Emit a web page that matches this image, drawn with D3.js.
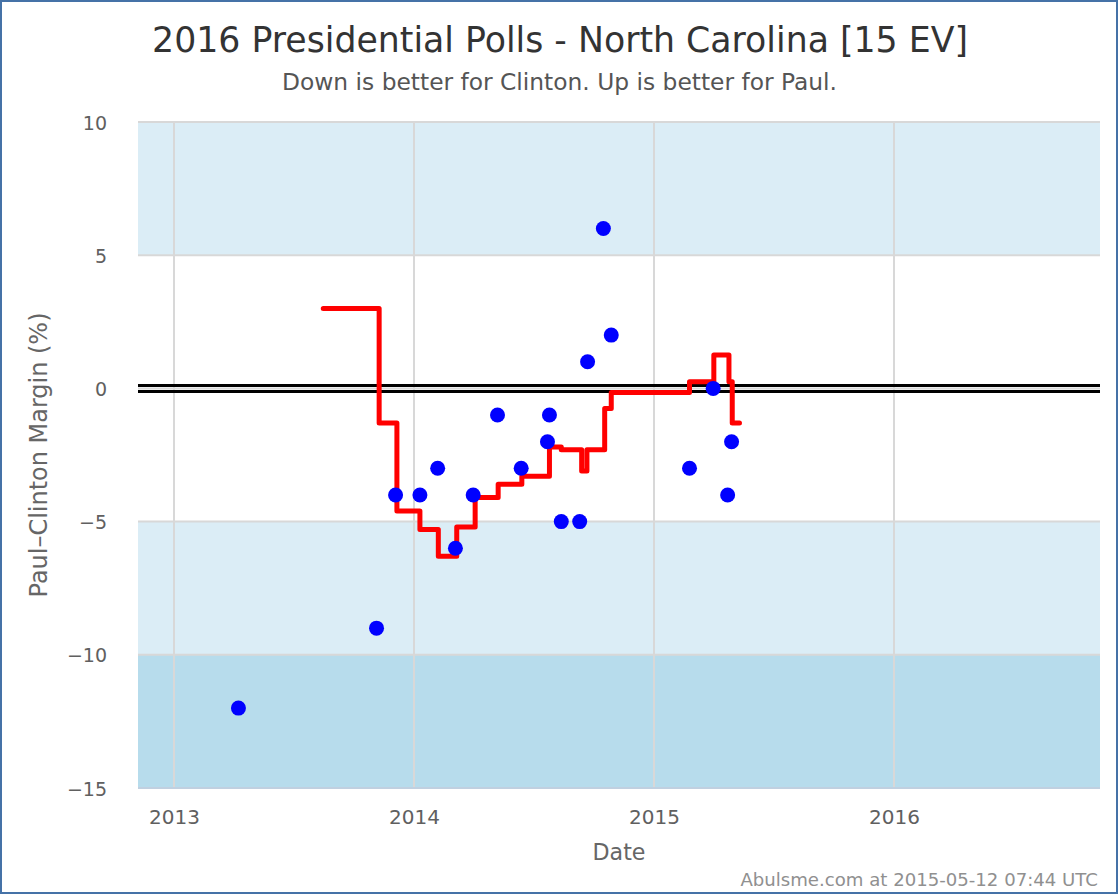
<!DOCTYPE html>
<html>
<head>
<meta charset="utf-8">
<script src="https://cdn.jsdelivr.net/npm/d3@7"></script>
<style>
  html, body { margin: 0; padding: 0; background: #ffffff; }
  svg { display: block; }
  text { font-family: "DejaVu Sans", Verdana, sans-serif; }
</style>
</head>
<body>
<svg id="chart" width="1120" height="896"></svg>
<script>
// ---------------- data ----------------
const titleText = "2016 Presidential Polls - North Carolina [15 EV]";
const subtitleText = "Down is better for Clinton. Up is better for Paul.";
const xAxisTitle = "Date";
const yAxisTitle = "Paul\u2013Clinton Margin (%)";
const footerText = "Abulsme.com at 2015-05-12 07:44 UTC";

const yTicks = [10, 5, 0, -5, -10, -15];
const xTickYears = [2013, 2014, 2015, 2016];

// shaded bands [from, to, kind]
const bandFrom = [5, -10, -15];
const bandTo   = [10, -5, -10];
const bandKind = ["light", "light", "dark"];

// individual polls
const pollDates = ["2013-04-09","2013-11-05","2013-12-04","2014-01-10","2014-02-06","2014-03-05",
  "2014-04-01","2014-05-08","2014-06-13","2014-07-23","2014-07-26","2014-08-13","2014-09-10",
  "2014-09-22","2014-10-16","2014-10-28","2015-02-24","2015-04-01","2015-04-23","2015-04-29"];
const pollValues = [-12, -9, -4, -4, -3, -6, -4, -1, -3, -2, -1, -5, -5, 1, 6, 2, -3, 0, -4, -2];

// running average (step line)
const avgDates = ["2013-08-16","2013-11-09","2013-12-06","2014-01-10","2014-02-07","2014-03-07",
  "2014-04-04","2014-05-09","2014-06-14","2014-07-26","2014-08-13","2014-09-13","2014-09-21",
  "2014-10-18","2014-10-28","2015-02-24","2015-04-02","2015-04-25","2015-04-30","2015-05-11"];
const avgValues = [3.0, -1.3, -4.6, -5.3, -6.3, -5.2, -4.1, -3.6, -3.3, -2.2, -2.3, -3.1, -2.3,
  -0.75, -0.15, 0.25, 1.25, 0.25, -1.3, -1.3];

// ---------------- layout ----------------
const W = 1120, H = 896;
const plot = { left: 138, right: 1100, top: 122, bottom: 788 };
const svg = d3.select("#chart");
const parse = d3.utcParse("%Y-%m-%d");

const x = d3.scaleUtc()
  .domain([Date.UTC(2012, 10, 7, 6), Date.UTC(2016, 10, 9, 7, 12)])
  .range([plot.left, plot.right]);
const y = d3.scaleLinear().domain([-15, 10]).range([plot.bottom, plot.top]);

function fit(sel, target) {
  const fs = parseFloat(sel.attr("font-size"));
  const w = sel.node().getComputedTextLength();
  sel.attr("font-size", (fs * target / w).toFixed(2));
  return sel;
}

// background & border
svg.append("rect").attr("x", 1).attr("y", 1).attr("width", 1116).attr("height", 892)
  .attr("fill", "#ffffff").attr("stroke", "#4572a7").attr("stroke-width", 2);

// bands
const bandColor = { light: "#dbedf6", dark: "#b7dcec" };
svg.append("g").selectAll("rect").data(bandFrom).join("rect")
  .attr("x", plot.left).attr("width", plot.right - plot.left)
  .attr("y", (d, i) => y(bandTo[i]))
  .attr("height", (d, i) => y(d) - y(bandTo[i]))
  .attr("fill", (d, i) => bandColor[bandKind[i]]);

// grid lines
const grid = svg.append("g");
grid.selectAll("line.h").data(yTicks.filter(v => v > -15)).join("line")
  .attr("x1", plot.left).attr("x2", plot.right)
  .attr("y1", d => y(d)).attr("y2", d => y(d))
  .attr("stroke", "#d8d8d8").attr("stroke-width", 2);
grid.selectAll("line.v").data(xTickYears).join("line")
  .attr("x1", d => x(Date.UTC(d, 0, 1))).attr("x2", d => x(Date.UTC(d, 0, 1)))
  .attr("y1", plot.top).attr("y2", plot.bottom)
  .attr("stroke", "#d8d8d8").attr("stroke-width", 2);
// bottom axis line
svg.append("line").attr("x1", plot.left).attr("x2", plot.right)
  .attr("y1", plot.bottom).attr("y2", plot.bottom)
  .attr("stroke", "#c0d0e0").attr("stroke-width", 2);

// zero double line
[-3, 3].forEach(off => {
  svg.append("line").attr("x1", plot.left).attr("x2", plot.right)
    .attr("y1", y(0) + off).attr("y2", y(0) + off)
    .attr("stroke", "#000000").attr("stroke-width", 3);
});

// axes (tick labels)
const yAxis = d3.axisLeft(y).tickValues(yTicks).tickSize(0).tickPadding(0)
  .tickFormat(d => d < 0 ? "\u2212" + Math.abs(d) : String(d));
const gy = svg.append("g").attr("transform", `translate(${plot.left - 31},1)`).call(yAxis);
gy.select(".domain").remove();
gy.selectAll("text").attr("font-size", 19).attr("fill", "#606060")
  .attr("font-family", "DejaVu Sans");

const xAxis = d3.axisBottom(x).tickValues(xTickYears.map(d => new Date(Date.UTC(d, 0, 1))))
  .tickSize(0).tickPadding(0).tickFormat(d3.utcFormat("%Y"));
const gx = svg.append("g").attr("transform", `translate(0,${plot.bottom})`).call(xAxis);
gx.select(".domain").remove();
gx.selectAll("text").attr("font-size", 20).attr("fill", "#606060")
  .attr("font-family", "DejaVu Sans").attr("dy", null).attr("y", 36);

// step line
const avgData = avgDates.map((d, i) => ({ t: parse(d), v: avgValues[i] }));
const line = d3.line().x(d => x(d.t)).y(d => y(d.v)).curve(d3.curveStepAfter);
svg.append("path").datum(avgData).attr("d", line)
  .attr("fill", "none").attr("stroke", "#ff0000").attr("stroke-width", 5)
  .attr("stroke-linejoin", "round").attr("stroke-linecap", "round");

// poll dots
svg.append("g").selectAll("circle").data(pollDates).join("circle")
  .attr("cx", d => x(parse(d))).attr("cy", (d, i) => y(pollValues[i]))
  .attr("r", 7.5).attr("fill", "#0000ff");

// titles
fit(svg.append("text").attr("x", 560).attr("y", 52).attr("text-anchor", "middle")
  .attr("font-size", 34).attr("fill", "#333333").text(titleText), 816);
fit(svg.append("text").attr("x", 559.5).attr("y", 90).attr("text-anchor", "middle")
  .attr("font-size", 23).attr("fill", "#555555").text(subtitleText), 555);
fit(svg.append("text").attr("x", (plot.left + plot.right) / 2).attr("y", 860)
  .attr("text-anchor", "middle").attr("font-size", 22).attr("fill", "#666666").text(xAxisTitle), 53);
fit(svg.append("text").attr("transform", `translate(47,${(plot.top + plot.bottom) / 2}) rotate(-90)`)
  .attr("text-anchor", "middle").attr("font-size", 23).attr("fill", "#666666").text(yAxisTitle), 285);
fit(svg.append("text").attr("x", 1098).attr("y", 886).attr("text-anchor", "end")
  .attr("font-size", 18).attr("fill", "#909090").text(footerText), 358);
</script>
</body>
</html>
